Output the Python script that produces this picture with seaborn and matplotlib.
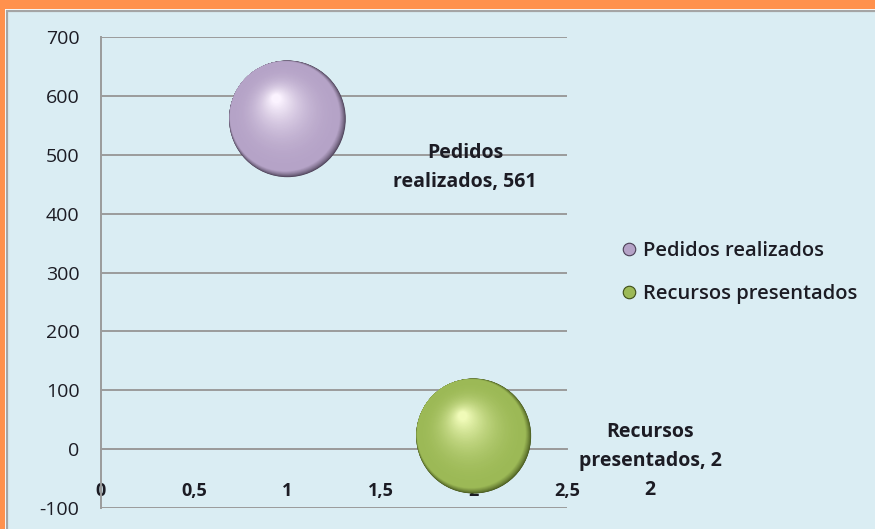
import numpy as np
import pandas as pd
import matplotlib.pyplot as plt
import matplotlib.transforms as mtransforms
from matplotlib.colors import to_rgb
from matplotlib.lines import Line2D
from matplotlib.patches import Rectangle
from matplotlib.ticker import FuncFormatter
import seaborn as sns

# data
series = ["Pedidos realizados", "Recursos presentados"]
x_vals = [1, 2]
y_vals = [561, 22]
bubble = [1.0, 0.98]
label_text = ["Pedidos\nrealizados, 561", "Recursos\npresentados, 2\n2"]

y_ticks = [-100, 0, 100, 200, 300, 400, 500, 600, 700]
x_ticks = [0, 0.5, 1, 1.5, 2, 2.5]

# colours: dark rim, body, highlight
shades = {
    "Pedidos realizados": ("#4a3f55", "#b5a3c7", "#fbf3ff"),
    "Recursos presentados": ("#3d4d18", "#9cb956", "#f0fbb8"),
}
orange = "#ff914d"
panel = "#daedf3"
grid_c = "#9b9b9b"
txt = "#1c1c24"

df = pd.DataFrame({"serie": series, "x": x_vals, "y": y_vals, "b": bubble})

sns.set_style("white")
plt.rcParams["font.family"] = ["Open Sans", "DejaVu Sans"]
plt.rcParams["axes.unicode_minus"] = False

fig = plt.figure(figsize=(8.75, 5.29), dpi=100, facecolor=orange)
# light blue chart panel
fig.patches.append(Rectangle((5 / 875, -0.05), 1.0, 1.05 - 9 / 529, transform=fig.transFigure,
                             facecolor="white", edgecolor="none", zorder=-10))
fig.patches.append(Rectangle((7 / 875, -0.05), 1.0, 1.05 - 11 / 529, transform=fig.transFigure,
                             facecolor=panel, edgecolor="#a5a5a5", lw=1.6, zorder=-9))

ax = fig.add_axes([101 / 875, 1 - 508 / 529, 466 / 875, 471 / 529])
ax.set_facecolor("none")

# base bubbles (dark rim) through seaborn
D = 84  # bubble diameter in points
sns.scatterplot(data=df, x="x", y="y", hue="serie", size="b", sizes=(D * D * 0.96, D * D),
                palette=[shades[s][0] for s in series], edgecolor="none", legend=False,
                ax=ax, zorder=3, clip_on=False)


def blend(c1, c2, t):
    a, b = np.array(to_rgb(c1)), np.array(to_rgb(c2))
    return tuple(a + (b - a) * t)


# shading layers to get a glossy sphere
n1, n2 = 14, 40
for s, xv, yv, bv in zip(series, x_vals, y_vals, bubble):
    dark, body, hi = shades[s]
    d0 = D * np.sqrt(bv)
    layers = []
    for i in range(1, n1 + 1):
        t = i / n1
        layers.append((blend(dark, body, t ** 0.7), d0 * (1 - 0.06 * t), -1.8 * t, 1.8 * t))
    for i in range(1, n2 + 1):
        t = i / n2
        layers.append((blend(body, hi, t ** 1.8), d0 * (0.94 - 0.86 * t ** 0.8),
                       -1.8 - 6.2 * t, 1.8 + 12.7 * t))
    for k, (col, dia, ox, oy) in enumerate(layers):
        off = mtransforms.ScaledTranslation(ox / 72, oy / 72, fig.dpi_scale_trans)
        ax.scatter([xv], [yv], s=dia ** 2, color=col, edgecolors="none",
                   transform=ax.transData + off, zorder=3 + k / 100, clip_on=False)

# data labels
offsets = [(128, -35), (127, -18)]
for lab, xv, yv, (dx, dy) in zip(label_text, x_vals, y_vals, offsets):
    ax.annotate(lab, (xv, yv), xytext=(dx, dy), textcoords="offset points",
                ha="center", va="center", fontsize=14, color=txt,
                fontweight="bold", linespacing=1.6, zorder=6)

# axes
ax.set_xlim(0, 2.5)
ax.set_ylim(-100, 700)
ax.set_yticks(y_ticks)
ax.set_xticks(x_ticks)
ax.xaxis.set_major_formatter(FuncFormatter(lambda v, p: f"{v:g}".replace(".", ",")))
ax.grid(axis="y", color=grid_c, lw=1.4)
ax.grid(axis="x", visible=False)
for side in ["top", "right"]:
    ax.spines[side].set_visible(False)
ax.spines["left"].set_color(grid_c)
ax.spines["left"].set_linewidth(1.4)
ax.spines["bottom"].set_position(("data", 0))
ax.spines["bottom"].set_color(grid_c)
ax.spines["bottom"].set_linewidth(1.4)
ax.tick_params(axis="y", direction="out", length=4.5, width=1.4, color=grid_c,
               pad=11, labelsize=14, labelcolor=txt)
ax.tick_params(axis="x", direction="out", length=4.5, width=1.4, color=grid_c,
               pad=19, labelsize=13, labelcolor=txt)
for lab in ax.get_xticklabels():
    lab.set_fontweight("bold")
ax.set_xlabel("")
ax.set_ylabel("")

# legend
handles = [Line2D([], [], ls="none", marker="o", markersize=9,
                  markerfacecolor=shades[s][1], markeredgecolor=shades[s][0], markeredgewidth=0.8)
           for s in series]
leg = fig.legend(handles, series, loc="center left", bbox_to_anchor=(611 / 875, 1 - 272.5 / 529),
                 frameon=False, fontsize=14.5, handlelength=0.8, handletextpad=0.3,
                 labelspacing=1.15, borderpad=0)
for t in leg.get_texts():
    t.set_color(txt)
    t.set_fontweight("semibold")

fig.savefig("out.png", dpi=100, facecolor=orange)
